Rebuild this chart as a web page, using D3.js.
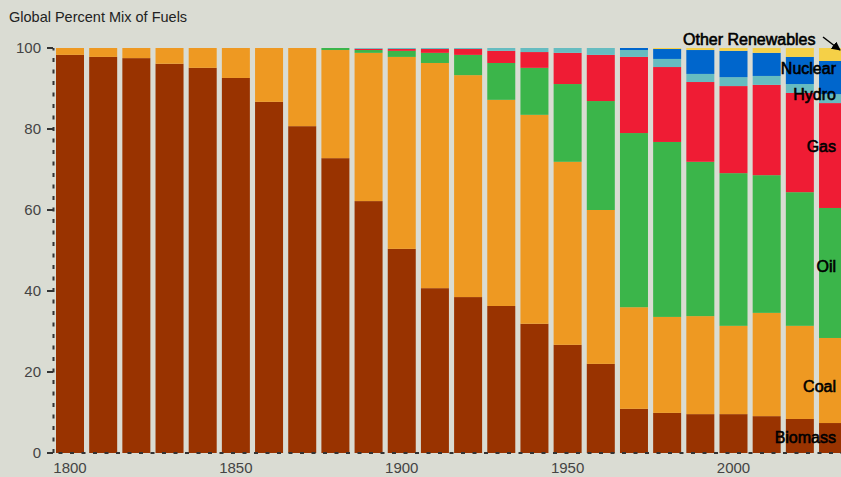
<!DOCTYPE html>
<html>
<head>
<meta charset="utf-8">
<script src="https://cdn.jsdelivr.net/npm/d3@7"></script>
<style>
  html, body { margin: 0; padding: 0; background: #dadcd3; overflow: hidden; }
  svg { display: block; font-family: "Liberation Sans", Arial, sans-serif; }
</style>
</head>
<body>
<svg id="chart" width="841" height="477"></svg>
<script>
const years = [1800,1810,1820,1830,1840,1850,1860,1870,1880,1890,1900,1910,1920,1930,1940,1950,1960,1970,1980,1990,2000,2010,2020,2030];
const biomass = [98.3,97.8,97.5,96.1,95.1,92.6,86.7,80.7,72.8,62.2,50.4,40.7,38.5,36.3,31.9,26.7,22.0,10.9,9.9,9.6,9.6,9.1,8.4,7.4];
const coal    = [1.7,2.2,2.5,3.9,4.9,7.4,13.3,19.3,26.7,36.6,47.4,55.6,54.8,50.9,51.6,45.2,38.0,25.1,23.7,24.2,21.8,25.5,23.0,21.0];
const oil     = [0,0,0,0,0,0,0,0,0.5,0.7,1.5,2.5,5.0,9.1,11.6,19.2,26.9,43.0,43.2,38.1,37.7,34.0,33.0,32.1];
const gas     = [0,0,0,0,0,0,0,0,0,0.3,0.45,0.95,1.45,3.0,3.9,7.7,11.4,18.8,18.5,19.7,21.5,22.3,24.5,25.9];
const hydro   = [0,0,0,0,0,0,0,0,0,0.2,0.25,0.25,0.25,0.7,1.0,1.2,1.7,1.7,2.0,2.0,2.2,2.2,2.2,2.2];
const nuclear = [0,0,0,0,0,0,0,0,0,0,0,0,0,0,0,0,0,0.5,2.45,5.9,6.5,5.7,6.7,8.2];
const otherRenewables = [0,0,0,0,0,0,0,0,0,0,0,0,0,0,0,0,0,0,0.25,0.5,0.7,1.2,2.2,3.2];

const seriesNames = ["Biomass","Coal","Oil","Gas","Hydro","Nuclear","Other Renewables"];
const seriesValues = [biomass, coal, oil, gas, hydro, nuclear, otherRenewables];
const seriesColors = ["#993300","#ee9922","#3bb54a","#ef1c34","#66bcc0","#0066cc","#f5d047"];
const yTicks = [0,20,40,60,80,100];
const xTicks = [1800,1850,1900,1950,2000];

const rows = years.map((yr, i) => {
  const r = { year: yr };
  seriesNames.forEach((n, k) => r[n] = seriesValues[k][i]);
  return r;
});

const svg = d3.select("#chart");
const x = d3.scaleLinear().domain([1800, 2000]).range([70, 733.5]);
const y = d3.scaleLinear().domain([0, 100]).range([453, 48]);
const barW = 28;

const stack = d3.stack().keys(seriesNames)(rows);

svg.append("g").selectAll("g").data(stack).join("g")
  .attr("fill", (d, i) => seriesColors[i])
  .selectAll("rect").data(d => d).join("rect")
  .attr("x", d => x(d.data.year) - barW / 2)
  .attr("width", barW)
  .attr("y", d => y(d[1]))
  .attr("height", d => Math.max(0, y(d[0]) - y(d[1])));

// title
svg.append("text").attr("x", 9).attr("y", 22)
  .attr("font-size", 14.5).attr("fill", "#222")
  .text("Global Percent Mix of Fuels");

// y axis (dashed line + ticks)
const axisColor = "#333";
svg.append("line").attr("x1", 53.5).attr("x2", 53.5).attr("y1", y(0)).attr("y2", y(100))
  .attr("stroke", axisColor).attr("stroke-width", 2).attr("stroke-dasharray", "4,7.5");
const yg = svg.append("g");
yg.selectAll("line").data(yTicks).join("line")
  .attr("x1", 47).attr("x2", 53).attr("y1", d => y(d)).attr("y2", d => y(d))
  .attr("stroke", axisColor).attr("stroke-width", 2);
yg.selectAll("text").data(yTicks).join("text")
  .attr("x", 41).attr("y", d => y(d)).attr("dy", "0.35em")
  .attr("text-anchor", "end").attr("font-size", 15).attr("fill", "#444")
  .text(d => d);

// x axis
svg.append("line").attr("x1", 47).attr("x2", 841).attr("y1", 453).attr("y2", 453)
  .attr("stroke", axisColor).attr("stroke-width", 2).attr("stroke-dasharray", "4,7.5");
svg.append("g").selectAll("text").data(xTicks).join("text")
  .attr("x", d => x(d)).attr("y", 473)
  .attr("text-anchor", "middle").attr("font-size", 15).attr("fill", "#444")
  .text(d => d);

// series labels
const labelPos = [
  { name: "Biomass", y: 443 },
  { name: "Coal", y: 391.5 },
  { name: "Oil", y: 271.5 },
  { name: "Gas", y: 152 },
  { name: "Hydro", y: 100 },
  { name: "Nuclear", y: 74 }
];
svg.append("g").selectAll("text").data(labelPos).join("text")
  .attr("x", 836).attr("y", d => d.y).attr("text-anchor", "end")
  .attr("font-size", 16).attr("fill", "#000").attr("stroke", "#000").attr("stroke-width", 0.6)
  .text(d => d.name);
svg.append("text").attr("x", 683).attr("y", 45)
  .attr("font-size", 16).attr("fill", "#000").attr("stroke", "#000").attr("stroke-width", 0.6)
  .text("Other Renewables");

// arrow
const defs = svg.append("defs");
defs.append("marker").attr("id", "arrow").attr("viewBox", "0 0 10 10")
  .attr("refX", 9).attr("refY", 5).attr("markerWidth", 6).attr("markerHeight", 6)
  .attr("orient", "auto")
  .append("path").attr("d", "M0,0 L10,5 L0,10 z").attr("fill", "#000");
svg.append("line").attr("x1", 823).attr("y1", 37).attr("x2", 840).attr("y2", 50)
  .attr("stroke", "#000").attr("stroke-width", 1.5).attr("marker-end", "url(#arrow)");
</script>
</body>
</html>
